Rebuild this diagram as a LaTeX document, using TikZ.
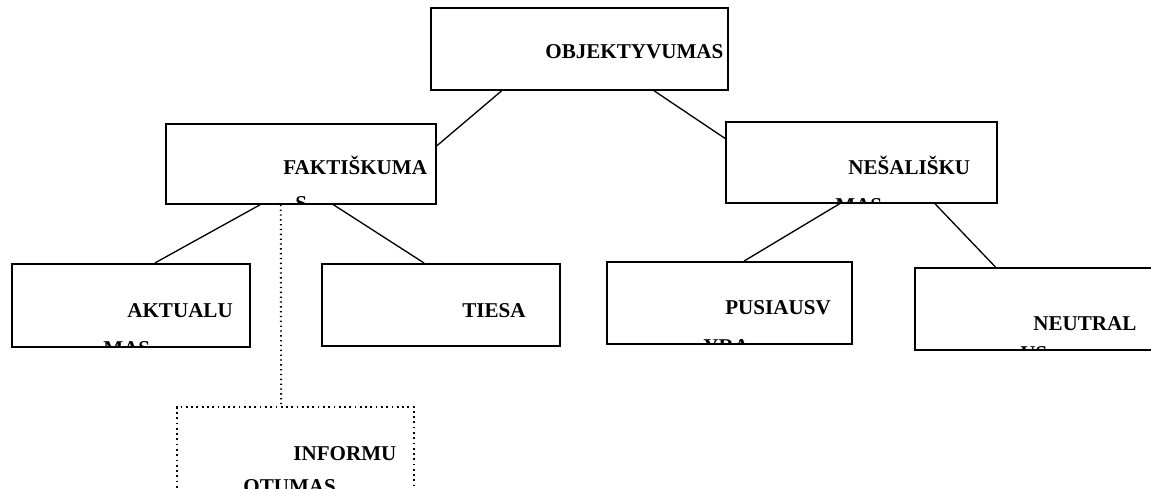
\documentclass[tikz,border=0pt]{standalone}
\usepackage{fontspec}
\setmainfont{Liberation Serif}
\usetikzlibrary{calc}
\tikzset{
  box/.style={draw,line width=1pt,rectangle,anchor=north west,inner sep=0pt},
  dotbox/.style={box,dotted,line width=1.1pt},
  lbl/.style={anchor=base west,inner sep=0pt,font=\fontsize{12pt}{14pt}\selectfont\bfseries},
  conn/.style={line width=0.75pt}
}
\begin{document}
\begin{tikzpicture}[x=0.02cm,y=-0.02cm]
    \useasboundingbox (0,0) rectangle (1151,488);
    % boxes
    \node[box,minimum width=5.94cm,minimum height=1.64cm] (obj) at (430,7) {};
    \node[box,minimum width=5.40cm,minimum height=1.60cm] (fak) at (165,123) {};
    \node[box,minimum width=5.42cm,minimum height=1.62cm] (nes) at (725,121) {};
    \node[box,minimum width=4.76cm,minimum height=1.66cm] (akt) at (11,263) {};
    \node[box,minimum width=4.76cm,minimum height=1.64cm] (ties) at (321,263) {};
    \node[box,minimum width=4.90cm,minimum height=1.64cm] (pus) at (606,261) {};
    \node[box,minimum width=4.90cm,minimum height=1.64cm] (neut) at (914,267) {};
    \node[dotbox,minimum width=4.74cm,minimum height=1.70cm] (inf) at (176,406) {};
    % texts, cut off at the box edges
    \begin{scope}
      \clip (obj.south west) rectangle (obj.north east);
      \node[lbl] (objt) at (545,58) {OBJEKTYVUMAS};
    \end{scope}
    \begin{scope}
      \clip (fak.south west) rectangle (fak.north east);
      \node[lbl] (fakt) at (283,174) {FAKTIŠKUMA};
      \node[lbl] (fakt2) at (295,210) {S};
    \end{scope}
    \begin{scope}
      \clip (nes.south west) rectangle (nes.north east);
      \node[lbl] (nest) at (848,174) {NEŠALIŠKU};
      \node[lbl] (nest2) at (835,212) {MAS};
    \end{scope}
    \begin{scope}
      \clip (akt.south west) rectangle (akt.north east);
      \node[lbl] (aktt) at (127,317) {AKTUALU};
      \node[lbl] (aktt2) at (103,355) {MAS};
    \end{scope}
    \begin{scope}
      \clip (ties.south west) rectangle (ties.north east);
      \node[lbl] (tiest) at (462,317) {TIESA};
    \end{scope}
    \begin{scope}
      \clip (pus.south west) rectangle (pus.north east);
      \node[lbl] (pust) at (725,314) {PUSIAUSV};
      \node[lbl] (pust2) at (703,353) {YRA};
    \end{scope}
    \begin{scope}
      \clip (neut.south west) rectangle (neut.north east);
      \node[lbl] (neutt) at (1033,330) {NEUTRAL};
      \node[lbl] (neutt2) at (1020,360) {US};
    \end{scope}
    \begin{scope}
      \clip (inf.south west) rectangle (inf.north east);
      \node[lbl] (inft) at (293,460) {INFORMU};
      \node[lbl] (inft2) at (243,493) {OTUMAS};
    \end{scope}
    % connectors
    \draw[conn] ($(obj.south west)!0.24!(obj.south east)$) -- ($(fak.north east)!0.28!(fak.south east)$);
    \draw[conn] ($(obj.south west)!0.75!(obj.south east)$) -- ($(nes.north west)!0.21!(nes.south west)$);
    \draw[conn] ($(fak.south west)!0.35!(fak.south east)$) -- ($(akt.north west)!0.60!(akt.north east)$);
    \draw[conn] ($(fak.south west)!0.62!(fak.south east)$) -- ($(ties.north west)!0.43!(ties.north east)$);
    \draw[conn,dotted,line width=1.1pt] ($(fak.south west)!0.426!(fak.south east)$) -- ($(inf.north west)!0.44!(inf.north east)$);
    \draw[conn] ($(nes.south west)!0.42!(nes.south east)$) -- ($(pus.north west)!0.56!(pus.north east)$);
    \draw[conn] ($(nes.south west)!0.77!(nes.south east)$) -- ($(neut.north west)!0.33!(neut.north east)$);
\end{tikzpicture}
\end{document}
